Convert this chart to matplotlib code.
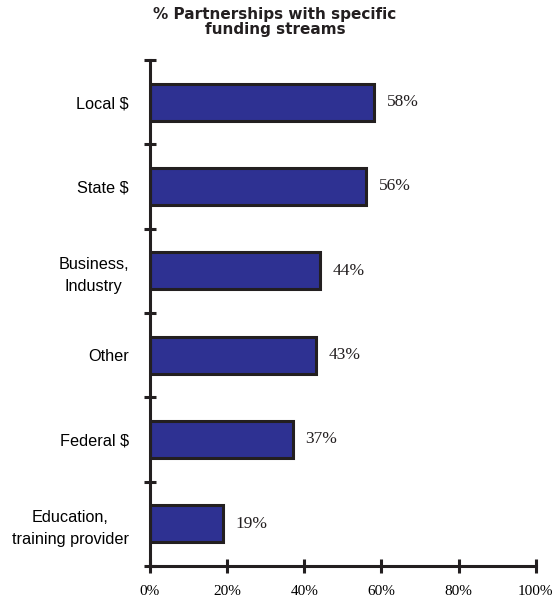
import matplotlib.pyplot as plt
import numpy as np

categories = ['Local $', 'State $', 'Business,\nIndustry', 'Other', 'Federal $',
              'Education,\ntraining provider']
values = [58, 56, 44, 43, 37, 19]
xticks = [0, 20, 40, 60, 80, 100]

fig = plt.figure(figsize=(5.53, 6.03), dpi=100)
ax = fig.add_axes([0.271, 0.0614, 0.698, 0.8391])

y = np.arange(len(categories))[::-1]
ax.barh(y, values, height=0.44, color='#2E3192', edgecolor='#231F20', linewidth=2.2)

for yi, v in zip(y, values):
    ax.text(v + 3.3, yi, f'{v}%', va='center', ha='left',
            fontsize=12.5, family='Liberation Serif', color='#231F20')

ax.set_xlim(0, 100)
ax.set_ylim(-0.5, len(categories) - 0.5)
ax.set_xticks(xticks)
ax.set_xticklabels([f'{t}%' for t in xticks], family='Liberation Serif', fontsize=11)
ax.set_yticks(y)
ax.set_yticklabels(categories, family='Liberation Sans', fontsize=11.7,
                   linespacing=1.55, ha='right', multialignment='center')
ax.tick_params(axis='y', length=0, pad=15)
ax.set_yticks(np.arange(len(categories) + 1) - 0.5, minor=True)
ax.tick_params(axis='y', which='minor', direction='inout', length=9, width=2.2, color='#231F20')
ax.tick_params(axis='x', direction='inout', length=10, width=2.2, color='#231F20', pad=9)

for s in ['top', 'right']:
    ax.spines[s].set_visible(False)
for s in ['left', 'bottom']:
    ax.spines[s].set_linewidth(2.2)
    ax.spines[s].set_color('#231F20')

fig.text(0.497, 0.988, '% Partnerships with specific\nfunding streams', ha='center', va='top',
         fontsize=11, fontweight='bold', linespacing=0.95, color='#231F20')

fig.savefig('out.png', dpi=100)
